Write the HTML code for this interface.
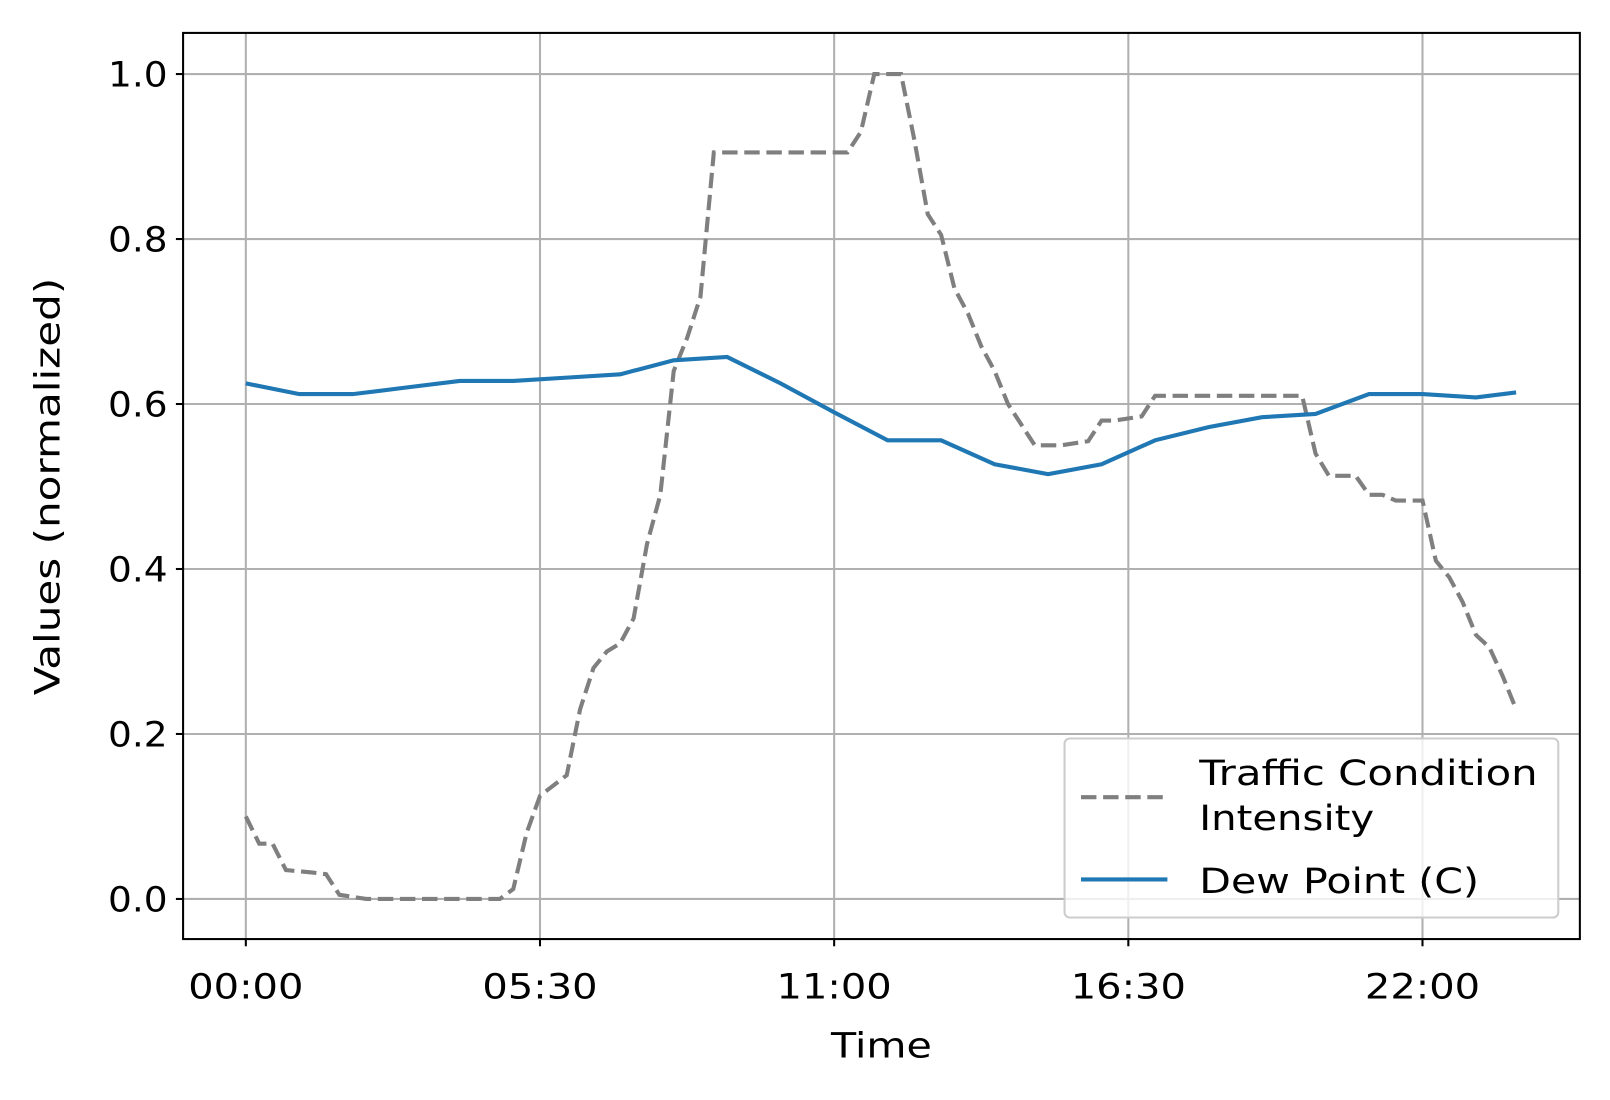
<!DOCTYPE html>
<html><head><meta charset="utf-8"><style>
html,body{margin:0;padding:0;background:#fff;}
svg text{font-family:"DejaVu Sans","Liberation Sans",sans-serif;fill:#000;}
</style></head><body>
<svg id="chart" width="1610" height="1095" viewBox="0 0 1565.3 1064.6" preserveAspectRatio="none" xmlns="http://www.w3.org/2000/svg">
<rect x="0" y="0" width="1566" height="1065" fill="#fff"/>
<g id="grid"></g>
<g id="series"></g>
<rect x="178" y="32" width="1358" height="881" fill="none" stroke="#000" stroke-width="2"/>
<g id="ticks"></g>
<text x="857" y="1028" font-size="34" text-anchor="middle" textLength="98" lengthAdjust="spacingAndGlyphs">Time</text>
<text transform="translate(58,473) rotate(-90)" font-size="34" text-anchor="middle" textLength="406" lengthAdjust="spacingAndGlyphs">Values (normalized)</text>
<g>
<rect x="1035" y="718" width="480" height="174" rx="5" fill="#fff" fill-opacity="0.8" stroke="#ccc" stroke-width="2"/>
<line x1="1051" y1="775" x2="1135" y2="775" stroke="#7f7f7f" stroke-width="4" stroke-dasharray="15,6.5"/>
<text x="1166" y="763" font-size="34" textLength="329" lengthAdjust="spacingAndGlyphs">Traffic Condition</text>
<text x="1166" y="807" font-size="34" textLength="170" lengthAdjust="spacingAndGlyphs">Intensity</text>
<line x1="1051" y1="855" x2="1135" y2="855" stroke="#1f77b4" stroke-width="4"/>
<text x="1166" y="868" font-size="34" textLength="272" lengthAdjust="spacingAndGlyphs">Dew Point (C)</text>
</g>
</svg>
<script>
const xTickHours=[0,5.5,11,16.5,22];
const xTickLabels=["00:00","05:30","11:00","16:30","22:00"];
const yTicks=[0,0.2,0.4,0.6,0.8,1.0];
const yTickLabels=["0.0","0.2","0.4","0.6","0.8","1.0"];
const trafficHours=[0,0.25,0.5,0.75,1.25,1.5,1.75,2.25,4.75,5,5.25,5.5,6,6.25,6.5,6.75,7,7.25,7.5,7.75,8,8.25,8.5,8.75,11.25,11.5,11.75,12.25,12.5,12.75,13,13.25,13.5,13.75,14,14.25,14.5,14.75,15.25,15.75,16,16.25,16.75,17,19.75,20,20.25,20.75,21,21.25,21.5,22,22.25,22.5,22.75,23,23.25,23.5,23.75];
const trafficValues=[0.10,0.067,0.067,0.035,0.032,0.03,0.005,0,0,0.012,0.08,0.125,0.15,0.23,0.28,0.30,0.31,0.34,0.43,0.49,0.64,0.68,0.73,0.905,0.905,0.93,1.0,1.0,0.92,0.83,0.805,0.74,0.71,0.67,0.64,0.60,0.575,0.55,0.55,0.555,0.58,0.58,0.585,0.61,0.61,0.54,0.513,0.513,0.49,0.49,0.483,0.483,0.41,0.39,0.36,0.32,0.305,0.27,0.23];
const dewHours=[0,1,2,3,4,5,6,7,8,9,10,11,12,13,14,15,16,17,18,19,20,21,22,23,23.75];
const dewValues=[0.625,0.612,0.612,0.62,0.628,0.628,0.632,0.636,0.653,0.657,0.625,0.59,0.556,0.556,0.527,0.515,0.527,0.556,0.572,0.584,0.588,0.612,0.612,0.608,0.614];
const X=h=>239+h*52;
const Y=v=>874-v*802;
const NS="http://www.w3.org/2000/svg";
function mk(tag,attrs,parent,text){const e=document.createElementNS(NS,tag);for(const k in attrs)e.setAttribute(k,attrs[k]);if(text!==undefined)e.textContent=text;parent.appendChild(e);return e;}
const grid=document.getElementById('grid'),ticks=document.getElementById('ticks'),series=document.getElementById('series');
xTickHours.forEach((h,i)=>{
 const g=mk('line',{x1:X(h),x2:X(h),y1:32,y2:913,stroke:'#b0b0b0','stroke-width':2},grid);
 
 
 const t=mk('line',{x1:X(h),x2:X(h),y1:913,y2:920,stroke:'#000','stroke-width':2},ticks);
 
 
 const l=mk('text',{x:X(h),y:971,'font-size':34,'text-anchor':'middle',textLength:112,lengthAdjust:'spacingAndGlyphs'},ticks,xTickLabels[i]);
 
 
});
yTicks.forEach((v,i)=>{
 const g=mk('line',{x1:178,x2:1536,y1:Y(v),y2:Y(v),stroke:'#b0b0b0','stroke-width':2},grid);
 
 
 const t=mk('line',{x1:171,x2:178,y1:Y(v),y2:Y(v),stroke:'#000','stroke-width':2},ticks);
 
 
 const l=mk('text',{x:163,y:Y(v)+12,'font-size':34,'text-anchor':'end',textLength:58,lengthAdjust:'spacingAndGlyphs'},ticks,yTickLabels[i]);
 
 
});
const tp=mk('polyline',{points:trafficHours.map((h,i)=>X(h)+','+Y(trafficValues[i])).join(' '),fill:'none',stroke:'#7f7f7f','stroke-width':4,'stroke-dasharray':'15,6.5'},series);


const dp=mk('polyline',{points:dewHours.map((h,i)=>X(h)+','+Y(dewValues[i])).join(' '),fill:'none',stroke:'#1f77b4','stroke-width':4},series);


</script>
</body></html>
